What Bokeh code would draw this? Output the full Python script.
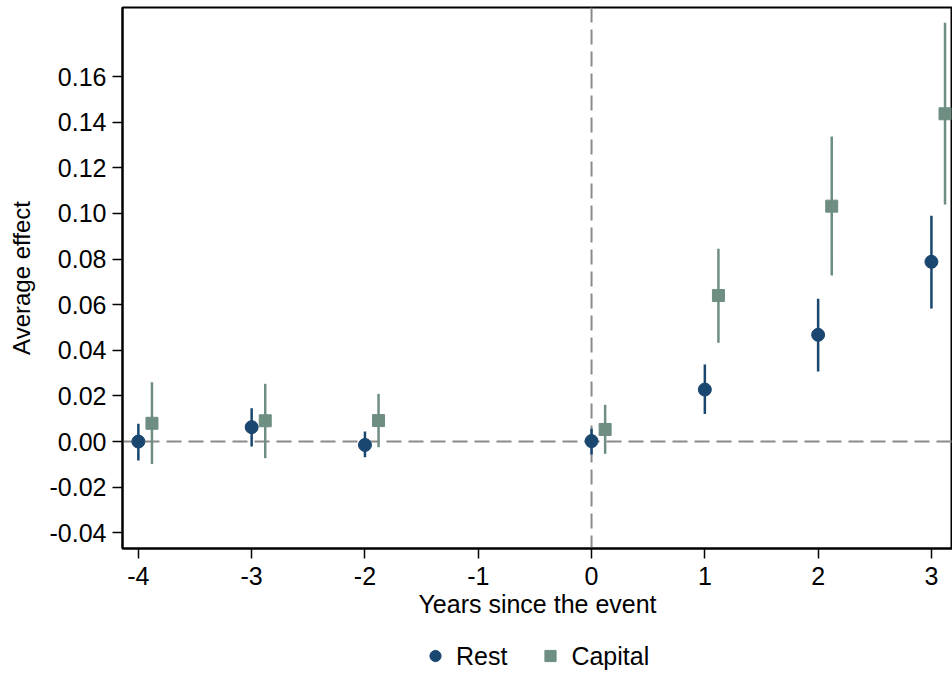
from bokeh.plotting import figure
from bokeh.layouts import column
from bokeh.models import (ColumnDataSource, Span, Legend, LegendItem,
                          FixedTicker, NumeralTickFormatter, PrintfTickFormatter, Range1d)
from bokeh.embed import file_html
from bokeh.resources import INLINE

# ---- data ----
years = [-4, -3, -2, 0, 1, 2, 3]
rest_est = [0.0000, 0.0063, -0.0015, 0.0002, 0.0228, 0.0468, 0.0788]
rest_lo = [-0.0083, -0.0022, -0.0069, -0.0057, 0.0121, 0.0307, 0.0583]
rest_hi = [0.0078, 0.0146, 0.0044, 0.0056, 0.0338, 0.0626, 0.0990]

cap_est = [0.0080, 0.0091, 0.0092, 0.0053, 0.0640, 0.1032, 0.1437]
cap_lo = [-0.0098, -0.0073, -0.0025, -0.0054, 0.0433, 0.0728, 0.1039]
cap_hi = [0.0260, 0.0253, 0.0209, 0.0161, 0.0845, 0.1337, 0.1836]

x_ticks = [-4, -3, -2, -1, 0, 1, 2, 3]
y_ticks = [-0.04, -0.02, 0.0, 0.02, 0.04, 0.06, 0.08, 0.10, 0.12, 0.14, 0.16]

NAVY = "#1a476f"
GREEN = "#6e8e82"
GRAY = "#8a8a8a"
FONT = "Liberation Sans"
cap_offset = 0.12

p = figure(width=952, height=636, output_backend="svg", toolbar_location=None,
           x_range=Range1d(-4.14, 3.186), y_range=Range1d(-0.0469, 0.1903),
           min_border_left=122, min_border_right=0, min_border_top=7, min_border_bottom=88)

p.xgrid.visible = False
p.ygrid.visible = False
p.outline_line_color = "black"
p.outline_line_width = 2
p.background_fill_color = "white"
p.border_fill_color = "white"

# reference lines
p.add_layout(Span(location=0, dimension="width", line_color=GRAY, line_width=2,
                  line_dash="15 7", level="underlay"))
p.add_layout(Span(location=0, dimension="height", line_color=GRAY, line_width=2,
                  line_dash="15 7", level="underlay"))

rest_src = ColumnDataSource(dict(x=years, y=rest_est, lo=rest_lo, hi=rest_hi))
cap_src = ColumnDataSource(dict(x=[v + cap_offset for v in years], y=cap_est,
                                lo=cap_lo, hi=cap_hi))

p.segment(x0="x", y0="lo", x1="x", y1="hi", source=rest_src, line_color=NAVY, line_width=2.5)
p.segment(x0="x", y0="lo", x1="x", y1="hi", source=cap_src, line_color=GREEN, line_width=2.5)
r_rest = p.scatter(x="x", y="y", source=rest_src, marker="circle", size=13,
                   fill_color=NAVY, line_color=NAVY)
r_cap = p.scatter(x="x", y="y", source=cap_src, marker="square", size=12,
                  fill_color=GREEN, line_color=GREEN)

# axes styling
for ax in (p.xaxis[0], p.yaxis[0]):
    ax.axis_line_width = 2
    ax.axis_line_color = "black"
    ax.major_tick_line_width = 1.5
    ax.major_tick_line_color = "black"
    ax.major_tick_out = 10
    ax.major_tick_in = 0
    ax.minor_tick_line_color = None
    ax.major_label_text_font = FONT
    ax.major_label_text_font_size = "25px"
    ax.major_label_text_color = "black"
    ax.axis_label_text_font = FONT
    ax.axis_label_text_font_size = "25px"
    ax.axis_label_text_font_style = "normal"
    ax.axis_label_text_color = "black"

p.yaxis.axis_label_text_font_size = "24px"
p.xaxis.ticker = FixedTicker(ticks=x_ticks)
p.xaxis.formatter = PrintfTickFormatter(format="%d")
p.yaxis.ticker = FixedTicker(ticks=y_ticks)
p.yaxis.formatter = NumeralTickFormatter(format="0.00")
p.yaxis.major_label_orientation = "horizontal"
p.xaxis.axis_label = "Years since the event"
p.yaxis.axis_label = "Average effect"
p.xaxis.major_label_standoff = 8
p.xaxis.axis_label_standoff = 2
p.yaxis.major_label_standoff = 6
p.yaxis.axis_label_standoff = 12

# ---- legend strip below the plot ----
lf = figure(width=952, height=39, output_backend="svg", toolbar_location=None,
            x_range=Range1d(0, 1), y_range=Range1d(0, 1),
            x_axis_type=None, y_axis_type=None,
            min_border_left=0, min_border_right=0, min_border_top=0, min_border_bottom=0)
lf.xgrid.visible = False
lf.ygrid.visible = False
lf.outline_line_color = None
lf.background_fill_color = "white"
lf.border_fill_color = "white"

l_rest = lf.scatter(x="x", y="y", source=rest_src, marker="circle", size=13,
                    fill_color=NAVY, line_color=NAVY, visible=False)
l_cap = lf.scatter(x="x", y="y", source=cap_src, marker="square", size=12,
                   fill_color=GREEN, line_color=GREEN, visible=False)

legend = Legend(items=[LegendItem(label="Rest", renderers=[l_rest]),
                       LegendItem(label="Capital", renderers=[l_cap])],
                orientation="horizontal", location="left",
                label_text_font=FONT, label_text_font_size="25px",
                label_text_color="black", border_line_color=None,
                background_fill_alpha=0, spacing=29, glyph_width=28, glyph_height=28,
                label_standoff=7, margin=299, padding=4, click_policy="none")
lf.add_layout(legend, "center")

layout = column(p, lf, spacing=0)
open("out.html", "w").write(file_html(layout, INLINE))
